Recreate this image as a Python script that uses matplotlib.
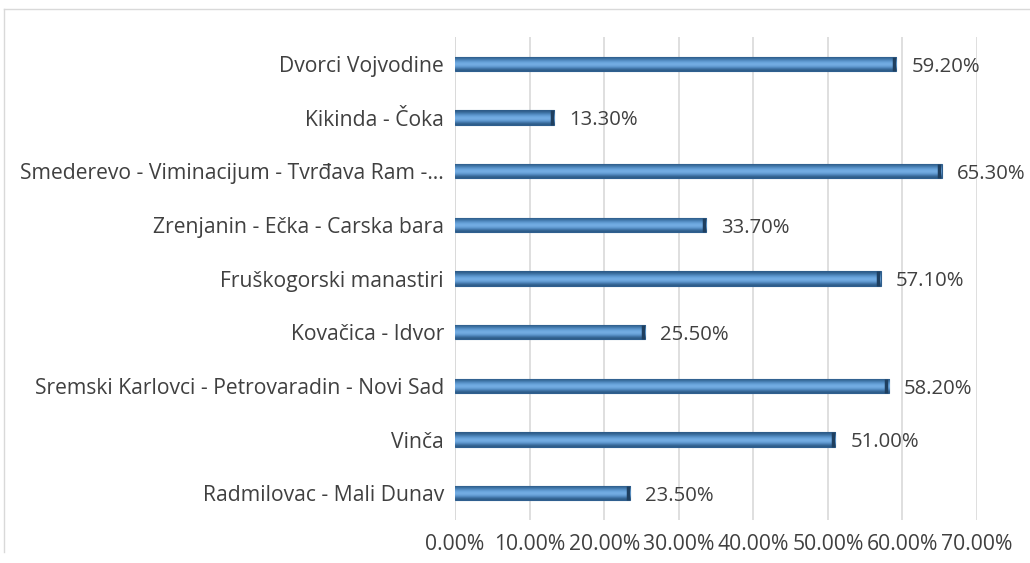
import numpy as np
import matplotlib.pyplot as plt
from matplotlib.lines import Line2D
from matplotlib.colors import LinearSegmentedColormap

# podaci (odozgo nadole)
rute = ["Dvorci Vojvodine", "Kikinda - Čoka", "Smederevo - Viminacijum - Tvrđava Ram -…",
        "Zrenjanin - Ečka - Carska bara", "Fruškogorski manastiri", "Kovačica - Idvor",
        "Sremski Karlovci - Petrovaradin - Novi Sad", "Vinča", "Radmilovac - Mali Dunav"]
procenti = [59.2, 13.3, 65.3, 33.7, 57.1, 25.5, 58.2, 51.0, 23.5]
xticks = [0, 10, 20, 30, 40, 50, 60, 70]

plt.rcParams['font.family'] = ['Open Sans', 'DejaVu Sans']
siva = '#404040'
fs = 15.2

fig = plt.figure(figsize=(10.3, 5.63), dpi=100)
ax = fig.add_axes([455/1030, 1-520/563, 522/1030, 483/563])

y = np.arange(len(rute))[::-1]
bars = ax.barh(y, procenti, height=0.27, color='#5b9bd5', edgecolor='#2f5f8f', linewidth=0.8, zorder=3)

# gradijent za 3D izgled
grad = np.array([0.0, 0.25, 0.45, 0.6, 0.75, 1.0]).reshape(-1, 1)
cmap = LinearSegmentedColormap.from_list('b', ['#2c5a86', '#4a86c0', '#7fb6ea', '#6aa6de', '#3f78ad', '#2c5a86'])
for b in bars:
    x0, y0, w, h = b.get_x(), b.get_y(), b.get_width(), b.get_height()
    im = ax.imshow(grad, cmap=cmap, aspect='auto', extent=[x0, x0 + w, y0, y0 + h],
                   origin='lower', interpolation='bicubic', zorder=3.5)
    im.set_clip_path(b)
    ax.plot([x0 + w - 0.35, x0 + w - 0.35], [y0, y0 + h], color='#1f3f5f', lw=2.5, zorder=4, solid_capstyle='butt')

for yi, v in zip(y, procenti):
    ax.text(v + 2.0, yi - 0.05, f"{v:.2f}%", va='center', ha='left', fontsize=14.6, color=siva)

ax.set_xlim(0, 70)
ax.set_ylim(-0.5, len(rute) - 0.5)
ax.set_xticks(xticks)
ax.set_xticklabels([f"{t:.2f}%" for t in xticks], fontsize=fs, color=siva)
ax.set_yticks(y)
ax.set_yticklabels(rute, fontsize=fs, color=siva)
ax.tick_params(axis='both', length=0)
ax.tick_params(axis='y', pad=8)
ax.tick_params(axis='x', pad=10)
ax.grid(axis='x', color='#d9d9d9', linewidth=1.2, zorder=0)
for s in ax.spines.values():
    s.set_visible(False)
ax.axvline(0, color='#d9d9d9', linewidth=1.2, zorder=1)

# okvir grafikona
fig.add_artist(Line2D([4/1030, 4/1030], [1-552/563, 1-9/563], color='#d9d9d9', lw=1))
fig.add_artist(Line2D([4/1030, 1], [1-9/563, 1-9/563], color='#d9d9d9', lw=1))

fig.savefig('out.png', dpi=100)
